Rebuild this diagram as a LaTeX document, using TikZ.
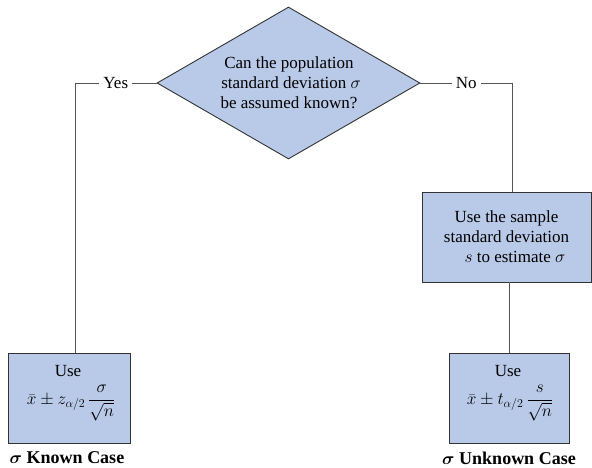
\documentclass[tikz,border=0pt]{standalone}
\usepackage{amsmath}
\usepackage{fontspec}
\setmainfont{Liberation Serif}
\usetikzlibrary{shapes.geometric}
\definecolor{boxfill}{HTML}{B9C9E8}
\definecolor{lineg}{HTML}{555555}
\tikzset{
  x=1pt,y=-1pt,
  box/.style={draw=black!80,line width=0.9pt,fill=boxfill,rectangle,inner sep=0pt,align=center,font=\fontsize{17}{20}\selectfont},
  conn/.style={draw=lineg,line width=0.7pt},
  lab/.style={fill=white,inner sep=4pt,font=\fontsize{17}{18}\selectfont},
  txt/.style={align=center,inner sep=0pt,font=\fontsize{17}{20}\selectfont},
  fml/.style={inner sep=0pt,font=\fontsize{17}{20}\selectfont},
  case/.style={font=\bfseries\boldmath\fontsize{18}{20}\selectfont}
}
\begin{document}
\begin{tikzpicture}
\useasboundingbox (0,0) rectangle (592,468);
\node[box,diamond,minimum width=263pt,minimum height=152pt,aspect=1.73] (q) at (288.5,83) {};
\node[txt] (qt) at (289,83) {Can the population\\ \ standard deviation $\sigma$\\be assumed known?};
\node[box,minimum width=122pt,minimum height=90pt] (kb) at (69,398) {};
\node[txt] (ku) at (68,371) {Use};
\node[fml] (kf) at (71,403) {$\displaystyle \bar{x}\pm z_{\alpha/2}\,\frac{\sigma}{\sqrt{n}}$};
\node[box,minimum width=169pt,minimum height=90pt] (sb) at (506.5,237) {Use the sample\\standard deviation\\ \quad $s$ to estimate $\sigma$};
\node[box,minimum width=120pt,minimum height=90pt] (ub) at (509,398) {};
\node[txt] (uu) at (508,371) {Use};
\node[fml] (uf) at (510,403) {$\displaystyle \bar{x}\pm t_{\alpha/2}\,\frac{s}{\sqrt{n}}$};
\coordinate (yc) at (75,83);
\coordinate (nc) at (512,83);
\draw[conn] (q.west) -- node[lab] (yes) {Yes} (yc) -- (kb.north -| yc);
\draw[conn] (q.east) -- node[lab] (no) {No} (nc) -- (sb.north -| nc);
\draw[conn] (sb.south -| ub.north) -- (ub.north);
\node[case] (kc) at (67,458) {$\sigma$ Known Case};
\node[case] (uc) at (509,458) {$\sigma$ Unknown Case};
\end{tikzpicture}
\end{document}
